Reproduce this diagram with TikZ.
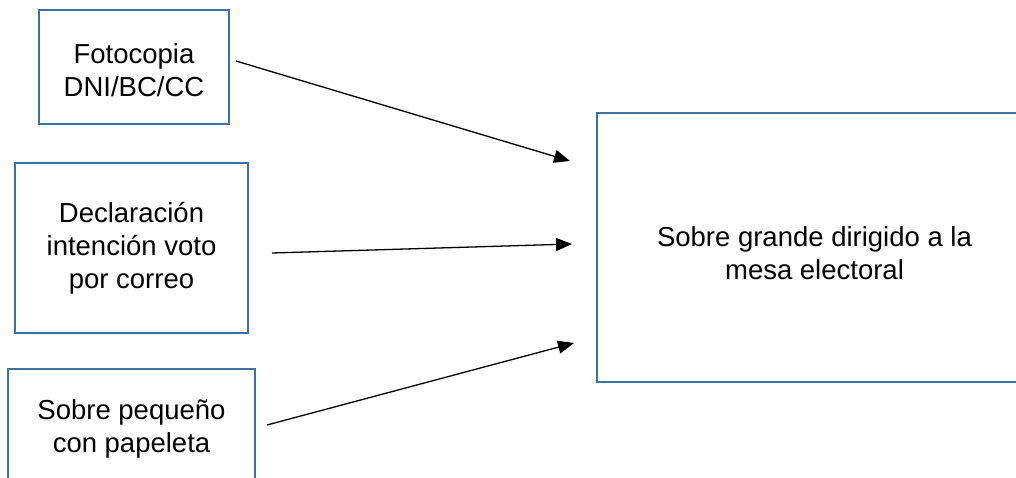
\documentclass[tikz,border=0pt]{standalone}
\usepackage{fontspec}
\setmainfont{Liberation Sans}
\usetikzlibrary{arrows.meta}
\definecolor{boxblue}{RGB}{65,113,156}
\tikzset{
  box/.style={draw=boxblue, line width=2.2pt, fill=white, inner sep=0pt},
  lbl/.style={align=center, inner sep=0pt, font=\fontsize{27.5}{33}\selectfont},
  arr/.style={line width=1.3pt, -{Triangle[length=16pt,width=13pt]}}
}
\begin{document}
\begin{tikzpicture}[x=1pt,y=-1pt]
\useasboundingbox (0,0) rectangle (1016,478);
\clip (0,0) rectangle (1016,478);
\fill[white] (0,0) rectangle (1016,478);
\node[box, minimum width=190pt, minimum height=114pt] (foto) at (134,67) {};
\node[lbl] (fotoT) at ([yshift=-3pt]foto.center) {Fotocopia\\DNI/BC/CC};
\node[box, minimum width=233pt, minimum height=170pt] (decl) at (131.5,248) {};
\node[lbl] (declT) at ([yshift=0pt]decl.center) {Declaración\\intención voto\\por correo};
\node[box, minimum width=247pt, minimum height=113pt] (sobre) at (131.5,425.5) {};
\node[lbl] (sobreT) at ([yshift=-3pt]sobre.center) {Sobre pequeño\\con papeleta};
\node[box, minimum width=435pt, minimum height=269pt] (grande) at (814.5,247.5) {};
\node[lbl] (grandeT) at ([yshift=-6pt]grande.center) {Sobre grande dirigido a la\\mesa electoral};
\coordinate (s1) at (236,61);
\coordinate (e1) at (570,161);
\coordinate (s2) at (272,253);
\coordinate (e2) at (572,244);
\coordinate (s3) at (267,425);
\coordinate (e3) at (574,343);
\draw[arr] (s1) -- (e1);
\draw[arr] (s2) -- (e2);
\draw[arr] (s3) -- (e3);
\end{tikzpicture}
\end{document}
